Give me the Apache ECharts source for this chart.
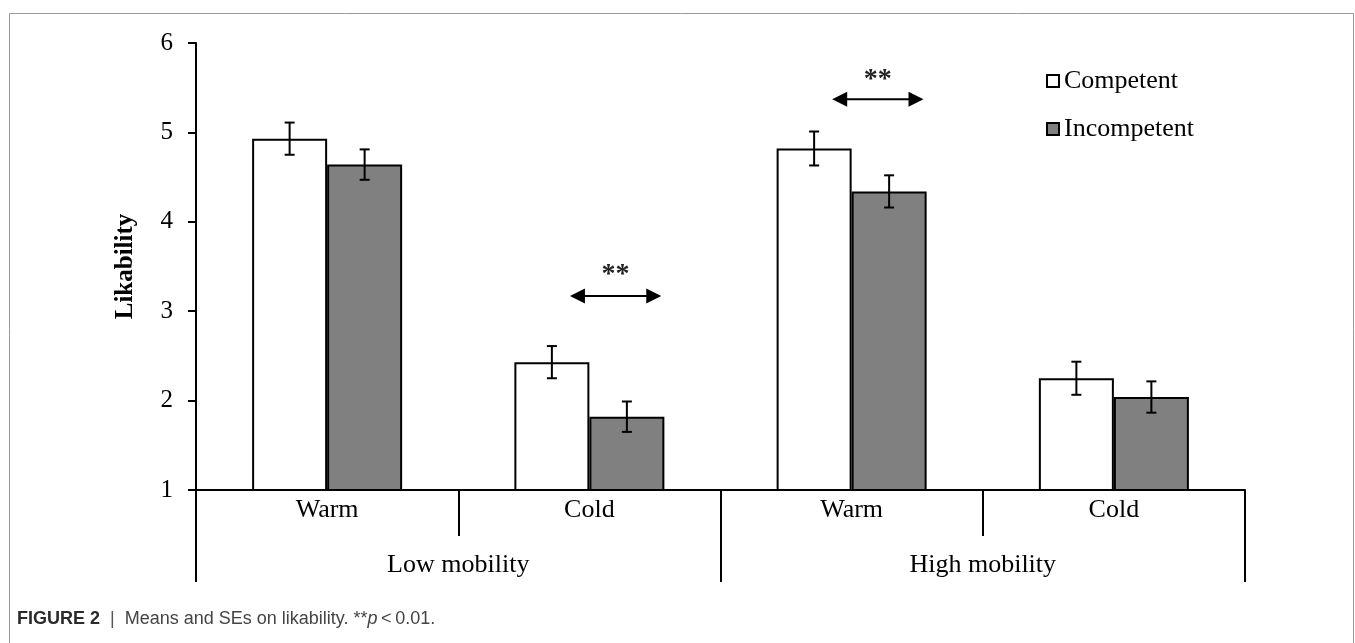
<!DOCTYPE html>
<html>
<head>
<meta charset="utf-8">
<script src="https://cdn.jsdelivr.net/npm/echarts@6/dist/echarts.min.js"></script>
<style>
html,body{margin:0;padding:0;background:#fff;}
#chart{width:1355px;height:643px;}
</style>
</head>
<body>
<div id="chart"></div>
<script>
// ---- data ----
const categories = ['Warm', 'Cold', 'Warm', 'Cold'];
const groups = ['Low mobility', 'High mobility'];
const seriesNames = ['Competent', 'Incompetent'];
const competentMeans = [4.93, 2.43, 4.82, 2.25];
const competentSE = [0.18, 0.18, 0.19, 0.185];
const incompetentMeans = [4.64, 1.82, 4.34, 2.04];
const incompetentSE = [0.17, 0.17, 0.18, 0.175];
const yTicks = [1, 2, 3, 4, 5, 6];
// significance annotations: category index, arrow level, star level
const sigCategory = [1, 2];
const sigArrowY = [3.17, 5.37];
const sigStarY = [3.41, 5.59];
const sigLabel = ['**', '**'];

const SERIF = "'Liberation Serif', 'Times New Roman', serif";
const SANS = "'Liberation Sans', Arial, Helvetica, sans-serif";
const BAR_FRAC = 0.286;

const errData = [];
competentMeans.forEach((m, i) => errData.push([i, m, competentSE[i], 0]));
incompetentMeans.forEach((m, i) => errData.push([i, m, incompetentSE[i], 1]));

const sigData = sigCategory.map((c, i) => [c, sigArrowY[i], sigStarY[i], i]);

const chart = echarts.init(document.getElementById('chart'), null, {renderer: 'canvas'});

const option = {
  animation: false,
  backgroundColor: '#fff',
  grid: {left: 196, right: 110, top: 43, bottom: 153, containLabel: false},
  legend: {
    data: seriesNames,
    orient: 'vertical',
    left: 1041,
    top: 63,
    itemWidth: 12,
    itemHeight: 12,
    itemGap: 22,
    icon: 'rect',
    textStyle: {fontFamily: SERIF, fontSize: 26, color: '#000'}
  },
  xAxis: [
    {
      type: 'category',
      data: categories,
      position: 'bottom',
      axisLine: {show: true, lineStyle: {color: '#000', width: 2}},
      axisTick: {show: true, length: 46, lineStyle: {color: '#000', width: 2}},
      axisLabel: {fontFamily: SERIF, fontSize: 26, color: '#000', margin: 7},
      splitLine: {show: false}
    },
    {
      type: 'category',
      data: groups,
      position: 'bottom',
      axisLine: {show: false},
      axisTick: {show: true, length: 92, lineStyle: {color: '#000', width: 2}},
      axisLabel: {fontFamily: SERIF, fontSize: 26, color: '#000', margin: 62},
      splitLine: {show: false}
    }
  ],
  yAxis: {
    type: 'value',
    min: yTicks[0],
    max: yTicks[yTicks.length - 1],
    interval: 1,
    name: 'Likability',
    nameLocation: 'middle',
    nameRotate: 90,
    nameGap: 58,
    nameTextStyle: {fontFamily: SERIF, fontSize: 25, fontWeight: 'bold', color: '#000'},
    axisLine: {show: true, lineStyle: {color: '#000', width: 2}},
    axisTick: {show: true, length: 8, lineStyle: {color: '#000', width: 2}},
    axisLabel: {fontFamily: SERIF, fontSize: 25, color: '#000', margin: 23},
    splitLine: {show: false}
  },
  series: [
    {
      name: seriesNames[0],
      type: 'bar',
      xAxisIndex: 0,
      data: competentMeans,
      barWidth: (BAR_FRAC * 100) + '%',
      barGap: '0%',
      clip: true,
      itemStyle: {color: '#ffffff', borderColor: '#000', borderWidth: 2}
    },
    {
      name: seriesNames[1],
      type: 'bar',
      xAxisIndex: 0,
      data: incompetentMeans,
      barWidth: (BAR_FRAC * 100) + '%',
      barGap: '0%',
      clip: true,
      itemStyle: {color: '#808080', borderColor: '#000', borderWidth: 2}
    },
    {
      type: 'custom',
      xAxisIndex: 0,
      data: errData,
      z: 10,
      renderItem: function (params, api) {
        const cat = api.value(0), m = api.value(1), se = api.value(2), s = api.value(3);
        const band = api.size([1, 0])[0];
        const off = (s === 0 ? -1 : 1) * band * BAR_FRAC / 2;
        const hi = api.coord([cat, m + se]);
        const lo = api.coord([cat, m - se]);
        const x = hi[0] + off;
        const cap = 5;
        const st = {stroke: '#000', lineWidth: 2};
        return {
          type: 'group',
          children: [
            {type: 'line', shape: {x1: x, y1: hi[1], x2: x, y2: lo[1]}, style: st},
            {type: 'line', shape: {x1: x - cap, y1: hi[1], x2: x + cap, y2: hi[1]}, style: st},
            {type: 'line', shape: {x1: x - cap, y1: lo[1], x2: x + cap, y2: lo[1]}, style: st}
          ]
        };
      }
    },
    {
      type: 'custom',
      xAxisIndex: 0,
      data: sigData,
      z: 10,
      renderItem: function (params, api) {
        const cat = api.value(0);
        const a = api.coord([cat, api.value(1)]);
        const t = api.coord([cat, api.value(2)]);
        const band = api.size([1, 0])[0];
        const cx = a[0] + band * 0.1;
        const half = band * 0.174;
        const x1 = cx - half, x2 = cx + half, y = a[1];
        const hl = 15, hh = 7.5;
        return {
          type: 'group',
          children: [
            {type: 'line', shape: {x1: x1 + hl - 2, y1: y, x2: x2 - hl + 2, y2: y}, style: {stroke: '#000', lineWidth: 2}},
            {type: 'polygon', shape: {points: [[x1, y], [x1 + hl, y - hh], [x1 + hl, y + hh]]}, style: {fill: '#000'}},
            {type: 'polygon', shape: {points: [[x2, y], [x2 - hl, y - hh], [x2 - hl, y + hh]]}, style: {fill: '#000'}},
            {type: 'text', x: cx, y: t[1], style: {text: sigLabel[api.value(3)], fontFamily: SERIF, fontSize: 28, fontWeight: 'bold', fill: '#222', align: 'center', verticalAlign: 'middle'}}
          ]
        };
      }
    }
  ],
  graphic: [
    {
      type: 'rect',
      shape: {x: 9.5, y: 13.5, width: 1344, height: 700},
      style: {fill: 'none', stroke: '#9a9a9a', lineWidth: 1},
      silent: true
    },
    {
      type: 'text',
      left: 17,
      top: 610,
      style: {
        text: '{b|FIGURE 2}{g|  |  }{n|Means and SEs on likability. **}{i|p}{n|\u2009<\u20090.01.}',
        rich: {
          b: {fontFamily: SANS, fontSize: 18, fontWeight: 'bold', fill: '#2a2a2a'},
          g: {fontFamily: SANS, fontSize: 18, fill: '#555'},
          n: {fontFamily: SANS, fontSize: 18, fill: '#444'},
          i: {fontFamily: SANS, fontSize: 18, fontStyle: 'italic', fill: '#444'}
        }
      }
    }
  ]
};

chart.setOption(option);
</script>
</body>
</html>
